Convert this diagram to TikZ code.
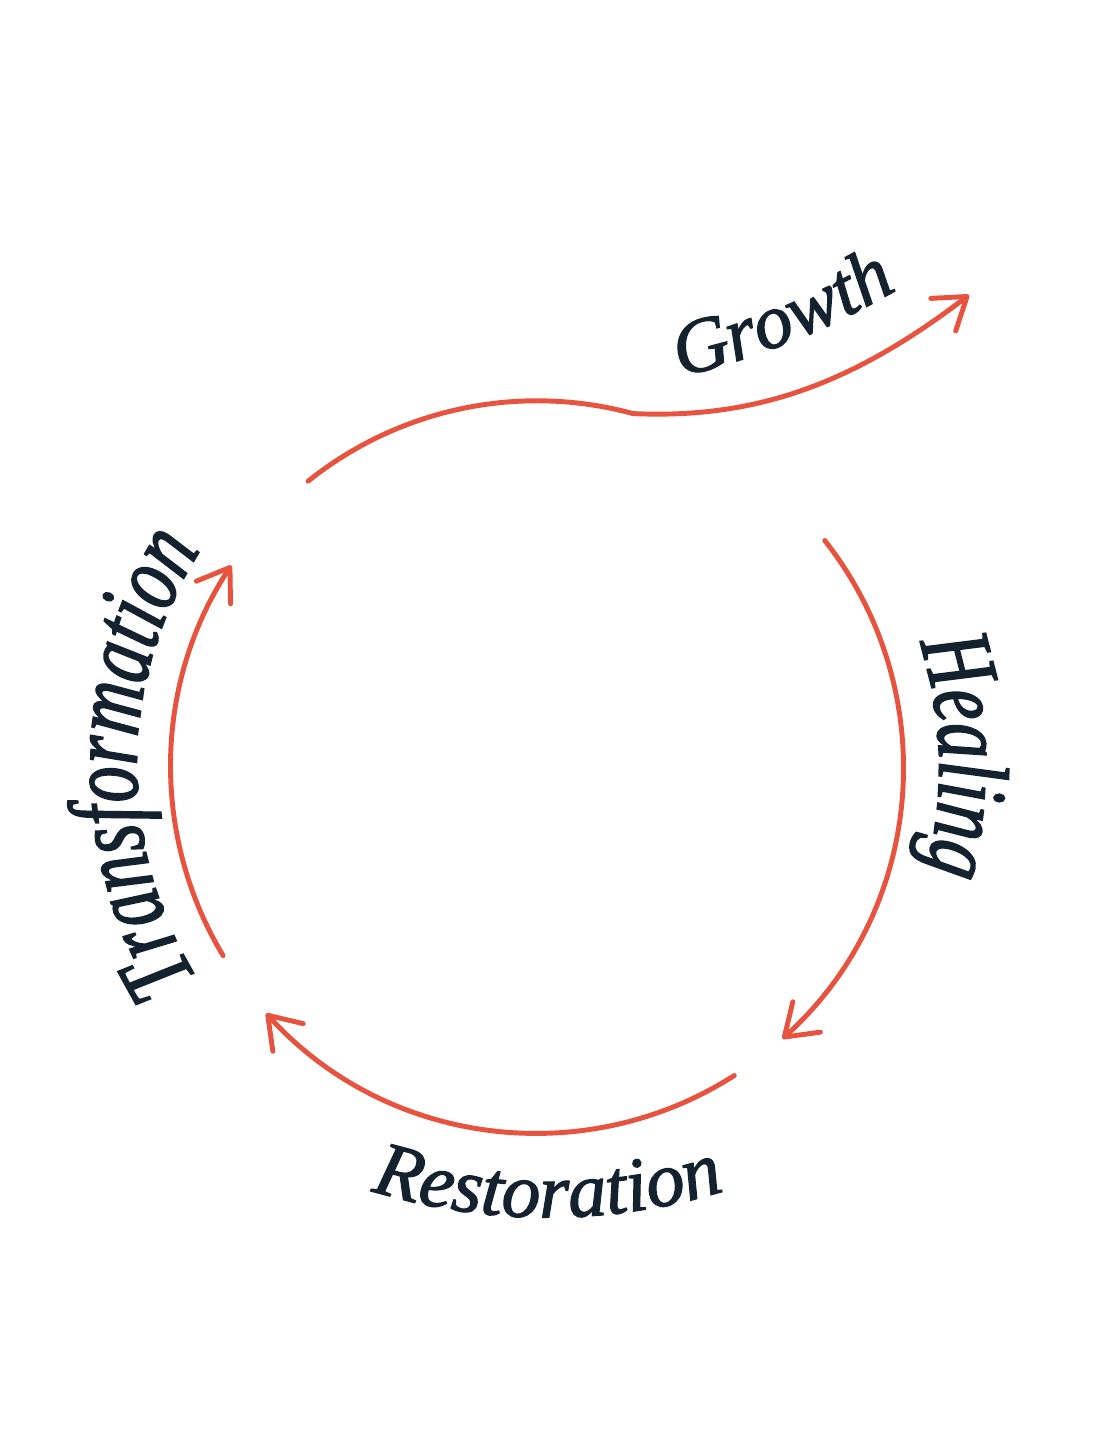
\documentclass[tikz,border=0pt]{standalone}
\usepackage{fontspec}
\usepackage{tikz}
\usetikzlibrary{arrows.meta,calc,decorations.text}
\setmainfont{Liberation Serif}
\newfontfamily\labelserif[FakeBold=1.6]{Liberation Serif}
\newfontfamily\narrowserif[FakeStretch=0.72, FakeBold=1.6]{Liberation Serif}
\definecolor{loopred}{HTML}{E8533F}
\definecolor{labelink}{HTML}{14222F}
\newcommand{\flatlabelfont}{\labelserif\fontsize{0.77cm}{0.9cm}\selectfont\itshape}
\newcommand{\sidelabelfont}{\narrowserif\fontsize{1cm}{1.2cm}\selectfont\itshape}

\begin{document}
\begin{tikzpicture}[x=0.01cm, y=0.01cm,
	cycle/.style={draw=loopred, line width=1.4pt, line cap=round, -{Straight Barb[length=3mm, width=4.1mm, round]}},
	curvelabel/.style={decorate, decoration={text along path, text align=center, text color=labelink}}]
		\useasboundingbox (0,0) rectangle (1105,1440);
		
		% Nodes
		\coordinate (ctr) at (537,673);
		\coordinate (growthstart) at ($(ctr)+(128.7:3.66cm)$);
		\coordinate (growthend) at (969,1145);
		\coordinate (healingstart) at ($(ctr)+(38.2:3.66cm)$);
		\coordinate (restorestart) at ($(ctr)+(-57.4:3.66cm)$);
		\coordinate (transstart) at ($(ctr)+(211:3.66cm)$);
		\coordinate (restorectr) at (548,823);
		
		% Arrows
		\draw[cycle] (growthstart) arc[start angle=128.7, end angle=74.8, radius=3.66cm]
			.. controls (753,1021) and (850,1054) .. (growthend);
		\draw[cycle] (healingstart) arc[start angle=38.2, end angle=-47.9, radius=3.66cm];
		\draw[cycle] (restorestart) arc[start angle=-57.4, end angle=-137.7, radius=3.66cm];
		\draw[cycle] (transstart) arc[start angle=211, end angle=146.6, radius=3.66cm];
		
		% Labels
		\path[curvelabel, decoration={text={|\flatlabelfont|Growth}}]
			(672,1062) .. controls (740,1075) and (830,1110) .. (905,1155);
		\path[curvelabel, decoration={text={|\sidelabelfont|Healing}}]
			($(ctr)+(61.5:4.02cm)$) arc[start angle=61.5, end angle=-58.5, radius=4.02cm];
		\path[curvelabel, decoration={text={|\flatlabelfont|Restoration}}]
			($(restorectr)+(240:6cm)$) arc[start angle=240, end angle=300, radius=6cm];
		\path[curvelabel, decoration={text={|\sidelabelfont|Transformation}}]
			($(ctr)+(240:4cm)$) arc[start angle=240, end angle=119, radius=4cm];
		
	\end{tikzpicture}
\end{document}
